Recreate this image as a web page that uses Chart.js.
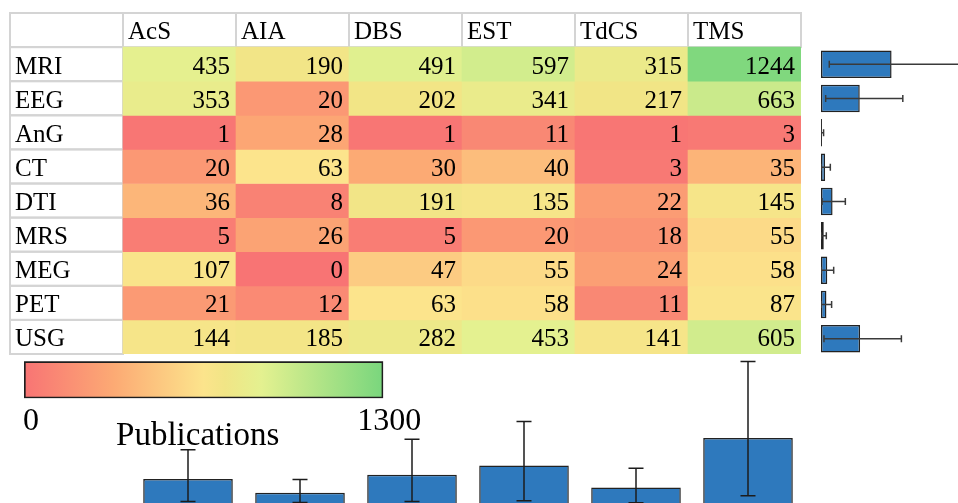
<!DOCTYPE html>
<html>
<head>
<meta charset="utf-8">
<title>Publications by imaging modality and stimulation technique</title>
<script src="https://cdn.jsdelivr.net/npm/chart.js@4.4.1/dist/chart.umd.min.js"></script>
<style>
  html, body { margin: 0; padding: 0; background: #fff; overflow: hidden; width: 958px; height: 503px; }
  canvas { position: absolute; }
  #heat    { left: 8px;   top: 11px; }
  #rowBars { left: 821px; top: 47px; }
  #colBars { left: 132px; top: 355px; }
  #legend  { left: 20px;  top: 356px; }
</style>
</head>
<body>
<canvas id="heat" width="796" height="346"></canvas>
<canvas id="rowBars" width="160" height="309"></canvas>
<canvas id="colBars" width="672" height="150"></canvas>
<canvas id="legend" width="420" height="100"></canvas>
<script>
// ---- data -------------------------------------------------------------
const techniques = ['AcS', 'AIA', 'DBS', 'EST', 'TdCS', 'TMS'];
const modalities = ['MRI', 'EEG', 'AnG', 'CT', 'DTI', 'MRS', 'MEG', 'PET', 'USG'];

// publication counts per modality, in technique order
const MRI = [435, 190, 491, 597, 315, 1244];
const EEG = [353, 20, 202, 341, 217, 663];
const AnG = [1, 28, 1, 11, 1, 3];
const CT  = [20, 63, 30, 40, 3, 35];
const DTI = [36, 8, 191, 135, 22, 145];
const MRS = [5, 26, 5, 20, 18, 55];
const MEG = [107, 0, 47, 55, 24, 58];
const PET = [21, 12, 63, 58, 11, 87];
const USG = [144, 185, 282, 453, 141, 605];

// marginal bars (per modality, right) with their whiskers
const rowMean    = [545.3, 299.3, 7.5, 31.8, 89.5, 21.5, 48.5, 42.0, 301.7];
const rowErrLow  = [64, 36, 1, 1, 8, 2, 3, 2, 23];
const rowErrHigh = [1120, 632, 20, 72, 188, 41, 98, 82, 621];

// marginal bars (per technique, bottom) with their whiskers
const colMean    = [124.7, 59.1, 145.8, 190.0, 83.6, 321.7];
const colErrLow  = [17, 12, 17, 20, 11, 44];
const colErrHigh = [265, 123, 316, 401, 177, 690];

// colour scale: 0 .. 1300 publications, diverging around 60
const scaleMin = 0;
const scaleMid = 60;
const scaleMax = 1300;
const scaleTicks = ['0', '1300'];
const scaleTitle = 'Publications';

const counts = [MRI, EEG, AnG, CT, DTI, MRS, MEG, PET, USG];

// ---- colour helpers ---------------------------------------------------
const colorStops = [
  [0.00, [248, 116, 116]],
  [0.25, [252, 170, 116]],
  [0.50, [252, 228, 140]],
  [0.56, [241, 229, 134]],
  [0.66, [228, 241, 144]],
  [1.00, [121, 214, 125]]
];
function positionFor(v) {
  if (v <= scaleMid) return 0.5 * (v - scaleMin) / (scaleMid - scaleMin);
  return 0.5 + 0.5 * (v - scaleMid) / (scaleMax - scaleMid);
}
function rgbAt(t) {
  t = Math.max(0, Math.min(1, t));
  for (let i = 1; i < colorStops.length; i++) {
    const [t1, c1] = colorStops[i];
    const [t0, c0] = colorStops[i - 1];
    if (t <= t1) {
      const f = (t - t0) / (t1 - t0);
      const c = c0.map((a, k) => Math.round(a + (c1[k] - a) * f));
      return `rgb(${c[0]},${c[1]},${c[2]})`;
    }
  }
  const c = colorStops[colorStops.length - 1][1];
  return `rgb(${c[0]},${c[1]},${c[2]})`;
}
const colorFor = v => rgbAt(positionFor(v));

const SERIF = '"Liberation Serif", "Times New Roman", serif';
const BAR_BLUE = '#2e79bd';
const BAR_EDGE = '#222';

Chart.defaults.animation = false;
Chart.defaults.responsive = false;
Chart.defaults.devicePixelRatio = 1;
Chart.defaults.events = [];
Chart.defaults.plugins.legend.display = false;
Chart.defaults.plugins.tooltip.enabled = false;

// ---- whiskers drawn on top of bar charts -------------------------------
function errorBarPlugin(cap, color, width) {
  return {
    id: 'errorBars',
    afterDatasetsDraw(chart) {
      const { ctx } = chart;
      const horizontal = chart.options.indexAxis === 'y';
      const vScale = horizontal ? chart.scales.x : chart.scales.y;
      chart.data.datasets.forEach((ds, di) => {
        if (!ds.errLow) return;
        const meta = chart.getDatasetMeta(di);
        ctx.save();
        ctx.strokeStyle = color;
        ctx.lineWidth = width;
        meta.data.forEach((el, i) => {
          const a = vScale.getPixelForValue(ds.errLow[i]);
          const b = vScale.getPixelForValue(ds.errHigh[i]);
          const c = horizontal ? el.y : el.x;
          const h = cap / 2;
          ctx.beginPath();
          if (horizontal) {
            ctx.moveTo(a, c); ctx.lineTo(b, c);
            ctx.moveTo(a, c - h); ctx.lineTo(a, c + h);
            ctx.moveTo(b, c - h); ctx.lineTo(b, c + h);
          } else {
            ctx.moveTo(c, a); ctx.lineTo(c, b);
            ctx.moveTo(c - h, a); ctx.lineTo(c + h, a);
            ctx.moveTo(c - h, b); ctx.lineTo(c + h, b);
          }
          ctx.stroke();
        });
        ctx.restore();
      });
    }
  };
}

// ---- heat-map table ----------------------------------------------------
const tablePlugin = {
  id: 'tableFrame',
  beforeDatasetsDraw(chart) {
    const { ctx, scales: { x, y } } = chart;
    const nCols = x.getLabels().length;
    const cw = x.width / nCols;
    ctx.save();
    ctx.strokeStyle = '#d4d4d4';
    ctx.lineWidth = 2;
    const hTop = y.getPixelForValue(0), hBot = y.getPixelForValue(1);
    for (let j = 0; j < nCols; j++) {
      ctx.strokeRect(x.getPixelForValue(j) - cw / 2, hTop, cw, hBot - hTop);
    }
    for (let r = 1; r <= modalities.length; r++) {
      const t = y.getPixelForValue(r), b = y.getPixelForValue(r + 1);
      ctx.strokeRect(x.left, t, cw, b - t);
    }
    ctx.restore();
  },
  afterDatasetsDraw(chart) {
    const { ctx, scales: { x, y } } = chart;
    const cw = x.width / x.getLabels().length;
    ctx.save();
    ctx.fillStyle = '#000';
    ctx.font = `25px ${SERIF}`;
    ctx.textBaseline = 'alphabetic';
    // column headers
    ctx.textAlign = 'left';
    techniques.forEach((t, j) => {
      ctx.fillText(t, x.getPixelForValue(j + 1) - cw / 2 + 5, y.getPixelForValue(0) + 26.3);
    });
    // row labels and cell values
    modalities.forEach((m, r) => {
      const top = y.getPixelForValue(r + 1);
      ctx.textAlign = 'left';
      ctx.fillText(m, x.left + 5, top + 26.5);
      ctx.textAlign = 'right';
      counts[r].forEach((v, j) => {
        ctx.fillText(String(v), x.getPixelForValue(j + 1) + cw / 2 - 6, top + 26.5);
      });
    });
    ctx.restore();
  }
};

new Chart(document.getElementById('heat'), {
  type: 'bar',
  data: {
    labels: [''].concat(techniques),
    datasets: modalities.map((m, r) => ({
      label: m,
      data: techniques.map((t, j) => ({ x: t, y: [r + 1, r + 2], v: counts[r][j] })),
      backgroundColor: c => (c.raw ? colorFor(c.raw.v) : '#fff'),
      borderWidth: 0,
      grouped: false,
      barPercentage: 1,
      categoryPercentage: 1
    }))
  },
  options: {
    layout: { padding: { left: 2, top: 2, right: 3, bottom: 3 } },
    scales: {
      x: { type: 'category', display: false, offset: true },
      y: { type: 'linear', display: false, min: 0, max: modalities.length + 1, reverse: true }
    }
  },
  plugins: [tablePlugin]
});

// ---- per-modality bars (right) -----------------------------------------
new Chart(document.getElementById('rowBars'), {
  type: 'bar',
  data: {
    labels: modalities,
    datasets: [{
      data: rowMean,
      errLow: rowErrLow,
      errHigh: rowErrHigh,
      backgroundColor: BAR_BLUE,
      borderColor: BAR_EDGE,
      borderWidth: 1.5,
      borderSkipped: false,
      barPercentage: 0.8,
      categoryPercentage: 1
    }]
  },
  options: {
    indexAxis: 'y',
    layout: { padding: 0 },
    scales: {
      x: { type: 'linear', display: false, min: 0, max: 1236 },
      y: { type: 'category', display: false }
    }
  },
  plugins: [errorBarPlugin(7, '#3a3a3a', 1.5)]
});

// ---- per-technique bars (bottom) ---------------------------------------
new Chart(document.getElementById('colBars'), {
  type: 'bar',
  data: {
    labels: techniques,
    datasets: [{
      data: colMean,
      errLow: colErrLow,
      errHigh: colErrHigh,
      backgroundColor: BAR_BLUE,
      borderColor: BAR_EDGE,
      borderWidth: 1.5,
      borderSkipped: false,
      barPercentage: 0.8,
      categoryPercentage: 1
    }]
  },
  options: {
    layout: { padding: 0 },
    scales: {
      x: { type: 'category', display: false },
      y: { type: 'linear', display: false, min: 0, max: 721 }
    }
  },
  plugins: [errorBarPlugin(15, '#1c1c1c', 1.5)]
});

// ---- colour-scale legend -----------------------------------------------
const legendText = {
  id: 'legendText',
  afterDatasetsDraw(chart) {
    const { ctx, scales: { x } } = chart;
    ctx.save();
    ctx.fillStyle = '#000';
    ctx.textBaseline = 'alphabetic';
    ctx.textAlign = 'center';
    ctx.font = `32px ${SERIF}`;
    ctx.fillText(scaleTicks[0], x.getPixelForValue(scaleMin) + 7, 74);
    ctx.fillText(scaleTicks[1], x.getPixelForValue(scaleMax) + 6, 74);
    ctx.font = `33px ${SERIF}`;
    ctx.fillText(scaleTitle, x.getPixelForValue((scaleMin + scaleMax) / 2) - 6, 89);
    ctx.restore();
  }
};

new Chart(document.getElementById('legend'), {
  type: 'bar',
  data: {
    labels: [scaleTitle],
    datasets: [{
      data: [[scaleMin, scaleMax]],
      backgroundColor: c => {
        const area = c.chart.chartArea;
        if (!area) return '#fff';
        const g = c.chart.ctx.createLinearGradient(area.left, 0, area.right, 0);
        colorStops.forEach(([t]) => g.addColorStop(t, rgbAt(t)));
        return g;
      },
      borderColor: '#1e1e1e',
      borderWidth: 2,
      borderSkipped: false,
      barPercentage: 1,
      categoryPercentage: 1
    }]
  },
  options: {
    indexAxis: 'y',
    layout: { padding: { left: 4, right: 56.7, top: 5.3, bottom: 57.7 } },
    scales: {
      x: { type: 'linear', display: false, min: scaleMin, max: scaleMax },
      y: { type: 'category', display: false }
    }
  },
  plugins: [legendText]
});
</script>
</body>
</html>
